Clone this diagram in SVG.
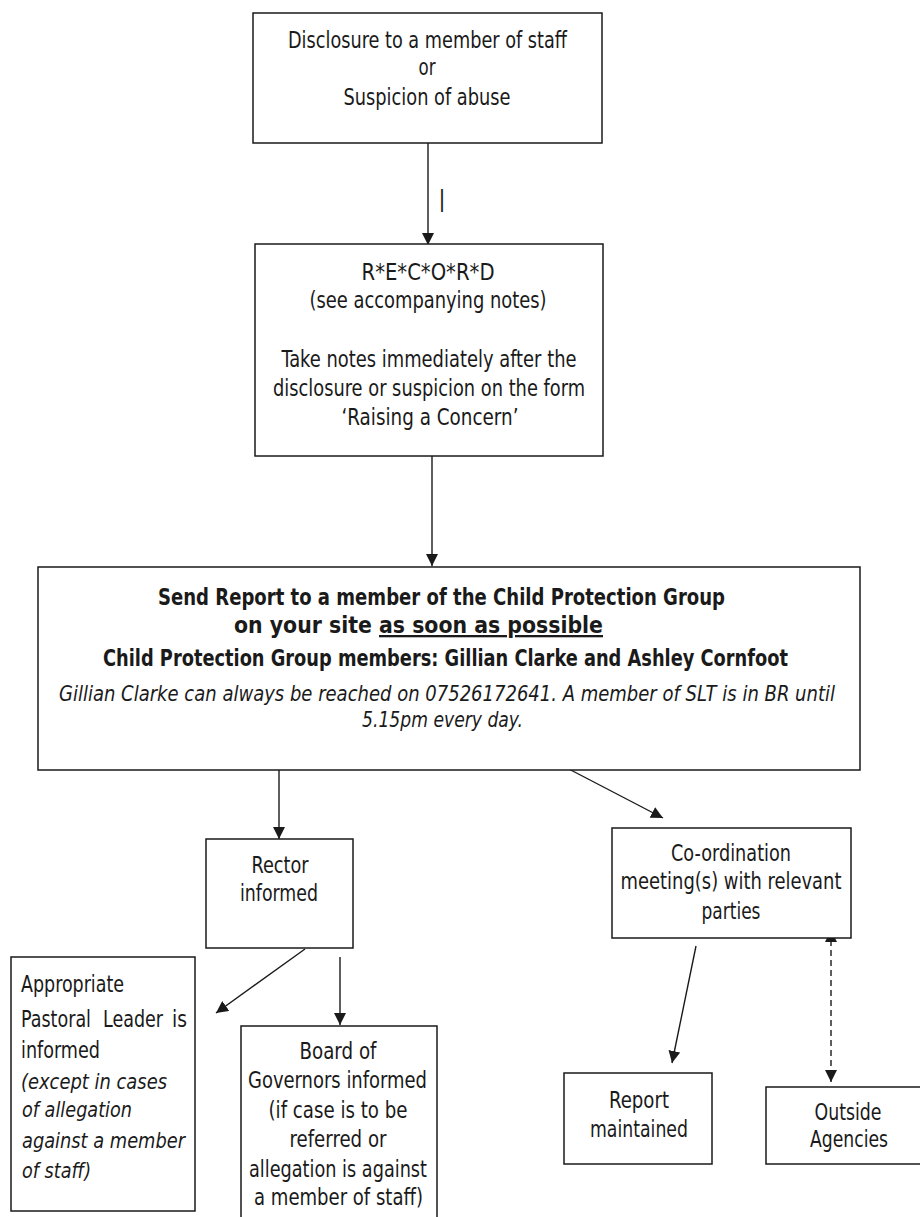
<svg xmlns="http://www.w3.org/2000/svg" width="920" height="1217" viewBox="0 0 920 1217">
<style>
  .box { fill: #ffffff; stroke: #1a1a1a; stroke-width: 1.5; }
  .t { font-family: "DejaVu Sans Condensed", "DejaVu Sans", sans-serif; font-stretch: condensed; font-size: 23px; fill: #1a1a1a; }
  .c { text-anchor: middle; }
  .b { font-weight: bold; font-size: 23px; }
  .i { font-style: italic; font-size: 22px; }
  .ln { stroke: #1a1a1a; stroke-width: 1.4; fill: none; marker-end: url(#arr); }
  .dash { stroke-dasharray: 6 4; marker-start: url(#arr); }
</style>
<defs>
  <marker id="arr" markerUnits="userSpaceOnUse" markerWidth="13" markerHeight="12" refX="12" refY="6" orient="auto-start-reverse" viewBox="0 0 13 12">
    <path d="M0,0 L12,6 L0,12 z" fill="#1a1a1a"/>
  </marker>
</defs>
<rect width="920" height="1217" fill="#ffffff"/>

<g id="connectors">
  <line class="ln" x1="428" y1="143" x2="428" y2="245"/>
  <line class="ln" x1="432" y1="456" x2="432" y2="566"/>
  <line class="ln" x1="279" y1="770" x2="279" y2="839"/>
  <line class="ln" x1="565" y1="767" x2="663" y2="818"/>
  <line class="ln" x1="305" y1="949" x2="216" y2="1013"/>
  <line class="ln" x1="340" y1="957" x2="340" y2="1025"/>
  <line class="ln" x1="696" y1="946" x2="672" y2="1063"/>
  <line class="ln dash" x1="831" y1="930" x2="831" y2="1082"/>
  <text class="t c" x="442" y="207">|</text>
</g>

<g id="disclosure">
  <rect class="box" x="253" y="13" width="349" height="130"/>
  <text class="t c" x="427.5" y="48" textLength="279" lengthAdjust="spacingAndGlyphs">Disclosure to a member of staff</text>
  <text class="t c" x="427" y="75" textLength="17" lengthAdjust="spacingAndGlyphs">or</text>
  <text class="t c" x="427" y="105" textLength="167" lengthAdjust="spacingAndGlyphs">Suspicion of abuse</text>
</g>

<g id="record">
  <rect class="box" x="255" y="244" width="348" height="212"/>
  <text class="t c" x="428" y="280" textLength="133" lengthAdjust="spacingAndGlyphs">R*E*C*O*R*D</text>
  <text class="t c" x="428" y="308" textLength="237" lengthAdjust="spacingAndGlyphs">(see accompanying notes)</text>
  <text class="t c" x="429" y="366.5" textLength="295" lengthAdjust="spacingAndGlyphs">Take notes immediately after the</text>
  <text class="t c" x="429" y="395.5" textLength="312" lengthAdjust="spacingAndGlyphs">disclosure or suspicion on the form</text>
  <text class="t c" x="430" y="425" textLength="177" lengthAdjust="spacingAndGlyphs">‘Raising a Concern’</text>
</g>

<g id="send-report">
  <rect class="box" x="38" y="567" width="822" height="203"/>
  <text class="t b c" x="441.5" y="605" textLength="567" lengthAdjust="spacingAndGlyphs">Send Report to a member of the Child Protection Group</text>
  <text class="t b" x="234" y="633" textLength="369" lengthAdjust="spacingAndGlyphs">on your site <tspan text-decoration="underline">as soon as possible</tspan></text>
  <text class="t b c" x="445.5" y="666" textLength="685" lengthAdjust="spacingAndGlyphs">Child Protection Group members: Gillian Clarke and Ashley Cornfoot</text>
  <text class="t i c" x="447" y="701" textLength="776" lengthAdjust="spacingAndGlyphs">Gillian Clarke can always be reached on 07526172641. A member of SLT is in BR until</text>
  <text class="t i c" x="442.5" y="727" textLength="161" lengthAdjust="spacingAndGlyphs">5.15pm every day.</text>
</g>

<g id="rector">
  <rect class="box" x="206" y="839" width="147" height="109"/>
  <text class="t c" x="280" y="873" textLength="57" lengthAdjust="spacingAndGlyphs">Rector</text>
  <text class="t c" x="279" y="901" textLength="78" lengthAdjust="spacingAndGlyphs">informed</text>
</g>

<g id="coordination">
  <rect class="box" x="612" y="828" width="239" height="110"/>
  <text class="t c" x="731" y="861" textLength="120" lengthAdjust="spacingAndGlyphs">Co-ordination</text>
  <text class="t c" x="731" y="889" textLength="221" lengthAdjust="spacingAndGlyphs">meeting(s) with relevant</text>
  <text class="t c" x="731" y="919" textLength="59" lengthAdjust="spacingAndGlyphs">parties</text>
</g>

<g id="pastoral">
  <rect class="box" x="11" y="957" width="184" height="254"/>
  <text class="t" x="21" y="992" textLength="103" lengthAdjust="spacingAndGlyphs">Appropriate</text>
  <text class="t" x="21" y="1027" textLength="70" lengthAdjust="spacingAndGlyphs">Pastoral</text>
  <text class="t" x="103" y="1027" textLength="60" lengthAdjust="spacingAndGlyphs">Leader</text>
  <text class="t" x="172" y="1027" textLength="15" lengthAdjust="spacingAndGlyphs">is</text>
  <text class="t" x="21" y="1058" textLength="79" lengthAdjust="spacingAndGlyphs">informed</text>
  <text class="t i" x="21" y="1089" textLength="146" lengthAdjust="spacingAndGlyphs">(except in cases</text>
  <text class="t i" x="22" y="1117" textLength="110" lengthAdjust="spacingAndGlyphs">of allegation</text>
  <text class="t i" x="22" y="1148" textLength="163" lengthAdjust="spacingAndGlyphs">against a member</text>
  <text class="t i" x="22" y="1178" textLength="69" lengthAdjust="spacingAndGlyphs">of staff)</text>
</g>

<g id="board">
  <rect class="box" x="241" y="1026" width="196" height="210"/>
  <text class="t c" x="338" y="1059" textLength="77" lengthAdjust="spacingAndGlyphs">Board of</text>
  <text class="t c" x="337.5" y="1088" textLength="179" lengthAdjust="spacingAndGlyphs">Governors informed</text>
  <text class="t c" x="338" y="1118" textLength="139" lengthAdjust="spacingAndGlyphs">(if case is to be</text>
  <text class="t c" x="338" y="1147" textLength="97" lengthAdjust="spacingAndGlyphs">referred or</text>
  <text class="t c" x="338" y="1177" textLength="178" lengthAdjust="spacingAndGlyphs">allegation is against</text>
  <text class="t c" x="338.5" y="1205" textLength="169" lengthAdjust="spacingAndGlyphs">a member of staff)</text>
</g>

<g id="report-maintained">
  <rect class="box" x="564" y="1073" width="148" height="91"/>
  <text class="t c" x="639" y="1108" textLength="60" lengthAdjust="spacingAndGlyphs">Report</text>
  <text class="t c" x="639" y="1137" textLength="98" lengthAdjust="spacingAndGlyphs">maintained</text>
</g>

<g id="outside-agencies">
  <rect class="box" x="766" y="1087" width="164" height="77"/>
  <text class="t c" x="848" y="1120" textLength="67" lengthAdjust="spacingAndGlyphs">Outside</text>
  <text class="t c" x="849" y="1147" textLength="78" lengthAdjust="spacingAndGlyphs">Agencies</text>
</g>
</svg>
